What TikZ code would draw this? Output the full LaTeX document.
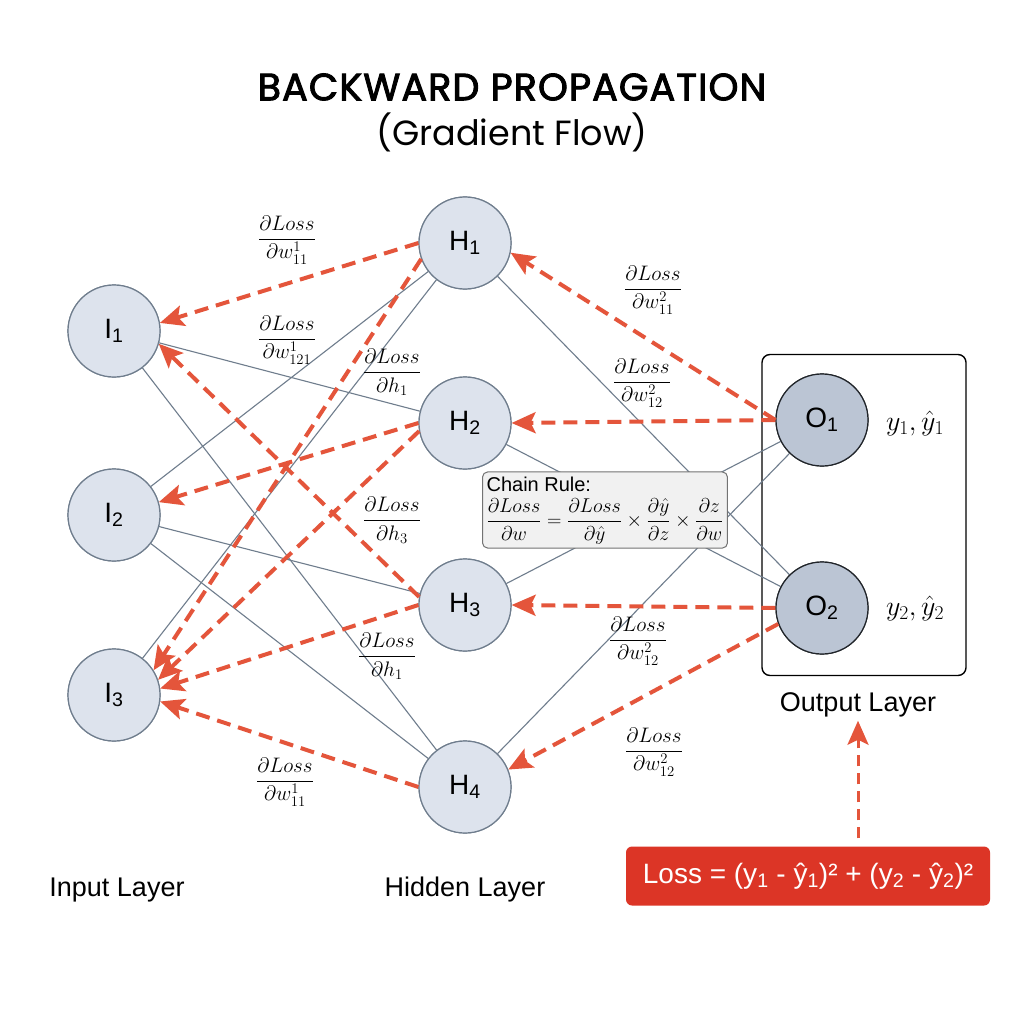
\RequirePackage{fix-cm}
\documentclass[tikz,border=0pt]{standalone}
\usepackage{amsmath}
\usepackage{fontspec}
\setmainfont{Liberation Sans}
\newfontfamily\titlefont{Poppins}[FakeBold=2.5, LetterSpace=3]
\newfontfamily\subtitlefont{Poppins}
\usepackage{tikz}
\usetikzlibrary{arrows.meta}

\definecolor{gradred}{HTML}{E4553B}
\definecolor{edgegray}{HTML}{6F7D8D}
\definecolor{neuronfill}{HTML}{DDE3ED}
\definecolor{outfill}{HTML}{BBC5D4}
\definecolor{lossred}{HTML}{DC3526}
\definecolor{chainfill}{HTML}{F1F1F1}

\tikzset{
  neuron/.style={circle, draw=edgegray, fill=neuronfill, line width=1.2pt,
    minimum size=92pt, inner sep=0pt, font=\fontsize{28}{30}\selectfont},
  outneuron/.style={neuron, fill=outfill, draw=black!70!edgegray},
  fwd/.style={draw=edgegray, line width=1.1pt},
  grad/.style={draw=gradred, line width=4pt, dash pattern=on 14pt off 8pt,
    -{Stealth[length=24pt, width=21pt, inset=5pt]}},
  dlabel/.style={font=\fontsize{21}{24}\selectfont},
  laylabel/.style={font=\fontsize{27}{30}\selectfont}
}

\begin{document}
\begin{tikzpicture}[x=1pt, y=-1pt]
  \useasboundingbox (0,0) rectangle (1024,1024);
  \fill[white] (0,0) rectangle (1024,1024);

  \node at (512,87) [font=\titlefont\fontsize{38}{42}\selectfont] (title) {BACKWARD PROPAGATION};
  \node at (512,132) [font=\subtitlefont\fontsize{35}{40}\selectfont] (subtitle) {(Gradient Flow)};

  \node at (864,515) [draw, rounded corners=8pt, line width=1.4pt,
    minimum width=204pt, minimum height=321pt] (outbox) {};

  % layers
  \node at (114,331) [neuron] (i1) {I\textsubscript{1}};
  \node at (114,515) [neuron] (i2) {I\textsubscript{2}};
  \node at (114,695) [neuron] (i3) {I\textsubscript{3}};
  \node at (465,243) [neuron] (h1) {H\textsubscript{1}};
  \node at (465,423) [neuron] (h2) {H\textsubscript{2}};
  \node at (465,605) [neuron] (h3) {H\textsubscript{3}};
  \node at (465,787) [neuron] (h4) {H\textsubscript{4}};
  \node at (822,420) [outneuron] (o1) {O\textsubscript{1}};
  \node at (822,608) [outneuron] (o2) {O\textsubscript{2}};

  % forward weights
  \draw[fwd] (i1) -- (h2);
  \draw[fwd] (i1) -- (h4);
  \draw[fwd] (i2) -- (h1);
  \draw[fwd] (i2) -- (h3);
  \draw[fwd] (i2) -- (h4);
  \draw[fwd] (i3) -- (h1);
  \draw[fwd] (h1) -- (o2);
  \draw[fwd] (h2) -- (o2);
  \draw[fwd] (h3) -- (o1);
  \draw[fwd] (h4) -- (o1);

  % redraw nodes over the lines
  \node at (i1) [neuron] {I\textsubscript{1}};
  \node at (i2) [neuron] {I\textsubscript{2}};
  \node at (i3) [neuron] {I\textsubscript{3}};
  \node at (h1) [neuron] {H\textsubscript{1}};
  \node at (h2) [neuron] {H\textsubscript{2}};
  \node at (h3) [neuron] {H\textsubscript{3}};
  \node at (h4) [neuron] {H\textsubscript{4}};
  \node at (o1) [outneuron] {O\textsubscript{1}};
  \node at (o2) [outneuron] {O\textsubscript{2}};

  \node at (605,510) [draw=black!55, fill=chainfill, rounded corners=5pt, line width=1pt,
    inner sep=4pt, font=\fontsize{20}{22}\selectfont] (chain)
    {\begin{tabular}{@{}l@{}}
     Chain Rule:\\[1pt]
     $\dfrac{\partial Loss}{\partial w}=\dfrac{\partial Loss}{\partial \hat{y}}\times\dfrac{\partial \hat{y}}{\partial z}\times\dfrac{\partial z}{\partial w}$
     \end{tabular}};

  % gradients
  \draw[grad] (o1.west) -- (h1.-12);
  \draw[grad] (o1.west) -- (h2.east);
  \draw[grad] (o2.west) -- (h3.east);
  \draw[grad] (o2.200) -- (h4.22);
  \draw[grad] (h1.west) -- (i1.10);
  \draw[grad] (h1.200) -- (i3.32);
  \draw[grad] (h2.west) -- (i2.16);
  \draw[grad] (h2.190) -- (i3.19);
  \draw[grad] (h3.170) -- (i1.-16);
  \draw[grad] (h3.west) -- (i3.8);
  \draw[grad] (h4.west) -- (i3.-8);

  \node at (287,240) [dlabel] (d1) {$\dfrac{\partial Loss}{\partial w^1_{11}}$};
  \node at (287,340) [dlabel] (d2) {$\dfrac{\partial Loss}{\partial w^1_{121}}$};
  \node at (392,372) [dlabel] (d3) {$\dfrac{\partial Loss}{\partial h_1}$};
  \node at (392,520) [dlabel] (d4) {$\dfrac{\partial Loss}{\partial h_3}$};
  \node at (387,656) [dlabel] (d5) {$\dfrac{\partial Loss}{\partial h_1}$};
  \node at (285,782) [dlabel] (d6) {$\dfrac{\partial Loss}{\partial w^1_{11}}$};
  \node at (653,290) [dlabel] (d7) {$\dfrac{\partial Loss}{\partial w^2_{11}}$};
  \node at (642,383) [dlabel] (d8) {$\dfrac{\partial Loss}{\partial w^2_{12}}$};
  \node at (638,641) [dlabel] (d9) {$\dfrac{\partial Loss}{\partial w^2_{12}}$};
  \node at (654,752) [dlabel] (d10) {$\dfrac{\partial Loss}{\partial w^2_{12}}$};

  \node at (915,423) [font=\fontsize{28}{30}\selectfont] (y1) {$y_1, \hat{y}_1$};
  \node at (915,608) [font=\fontsize{28}{30}\selectfont] (y2) {$y_2, \hat{y}_2$};

  \node at (117,890) [laylabel] (inlbl) {Input Layer};
  \node at (465,890) [laylabel] (hidlbl) {Hidden Layer};
  \node at (858,705) [laylabel] (outlbl) {Output Layer};

  \node at (808,876) [fill=lossred, rounded corners=6pt, text=white, minimum width=364pt,
    minimum height=59pt, font=\fontsize{28}{30}\selectfont] (loss)
    {Loss = (y\textsubscript{1} - ŷ\textsubscript{1})²~+ (y\textsubscript{2} - ŷ\textsubscript{2})²};
  \draw[grad, line width=3pt, dash pattern=on 11pt off 7pt, shorten <=8pt]
    (loss.north -| outlbl) -- (outlbl.south);
\end{tikzpicture}
\end{document}
